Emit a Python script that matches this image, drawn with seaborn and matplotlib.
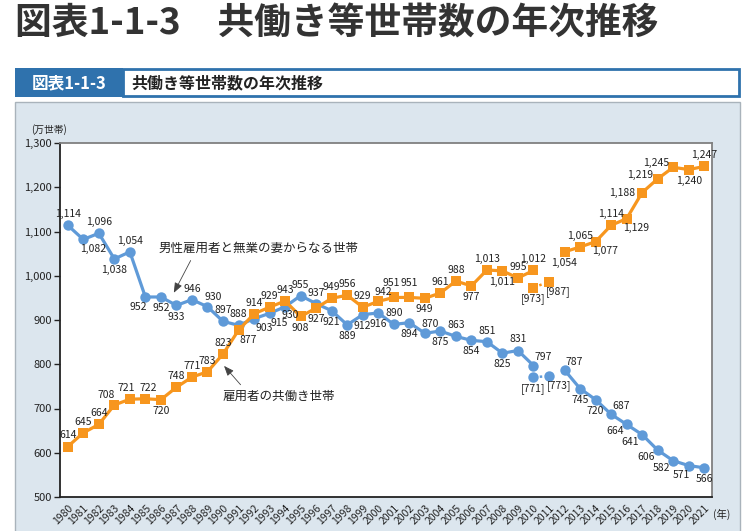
import matplotlib
matplotlib.use("Agg")
import matplotlib.pyplot as plt
from matplotlib.patches import Rectangle
from matplotlib.ticker import FuncFormatter, MultipleLocator
import pandas as pd
import seaborn as sns

years = list(range(1980, 2022))
# 男性雇用者と無業の妻からなる世帯 (2011 は欠測)
single_earner = [1114, 1082, 1096, 1038, 1054, 952, 952, 933, 946, 930,
                 897, 888, 903, 915, 930, 955, 937, 921, 889, 912,
                 916, 890, 894, 870, 875, 863, 854, 851, 825, 831,
                 797, None, 787, 745, 720, 687, 664, 641, 606, 582, 571, 566]
# 雇用者の共働き世帯
dual_earner = [614, 645, 664, 708, 721, 722, 720, 748, 771, 783,
               823, 877, 914, 929, 943, 908, 927, 949, 956, 929,
               942, 951, 951, 949, 961, 988, 977, 1013, 1011, 995,
               1012, None, 1054, 1065, 1077, 1114, 1129, 1188, 1219, 1245, 1240, 1247]
# 岩手・宮城・福島を除く参考値
ref_years = [2010, 2011]
single_ref = [771, 773]
dual_ref = [973, 987]

# where each value label sits relative to its point
single_pos = ['a', 'br', 'a', 'b', 'a', 'bl', 'b', 'b', 'a', 'ar',
              'a', 'a', 'br', 'br', 'bR', 'a', 'a', 'b', 'b', 'b',
              'b', 'a', 'b', 'ar', 'b', 'a', 'b', 'a', 'b', 'a',
              'aR', None, 'aR', 'b', 'b', 'aR', 'lb', 'lb', 'lb', 'lb', 'bl', 'b']
dual_pos = ['a', 'a', 'a', 'aL', 'al', 'ar1', 'b', 'a', 'a', 'a',
            'a', 'br', 'a', 'a', 'a', 'b', 'b', 'a', 'a', 'a',
            'ar', 'a2L', 'a2', 'b', 'a', 'a', 'b', 'a', 'b', 'a',
            'a', None, 'b', 'a', 'br', 'a', 'br', 'l', 'la', 'la', 'b', 'a']
single_ref_pos = ['b', 'br']
dual_ref_pos = ['b', 'br']

BLUE = '#5f9ad8'
ORANGE = '#f7961e'
PANEL = '#dce6ee'
HEAD = '#2f72ad'

sns.set_theme(style="white")
plt.rcParams['font.family'] = ['Noto Sans CJK JP', 'DejaVu Sans']

W, H = 750, 531
fig = plt.figure(figsize=(W / 100, H / 100), dpi=100, facecolor='white')


def px_rect(x, y, w, h, **kw):
    fig.add_artist(Rectangle((x / W, 1 - (y + h) / H), w / W, h / H,
                             transform=fig.transFigure, zorder=-10, **kw))


# page furniture
fig.text(15 / W, 1 - 24 / H, '図表1-1-3　共働き等世帯数の年次推移', fontsize=26.5,
         fontweight='bold', color='#333333', va='center', ha='left')
px_rect(15, 102, 725, 440, facecolor=PANEL, edgecolor='#a9b3bb', linewidth=1)
px_rect(123, 69, 616, 27, facecolor='white', edgecolor=HEAD, linewidth=2)
px_rect(15, 68, 108, 29, facecolor=HEAD, edgecolor=HEAD, linewidth=0)
fig.text(69 / W, 1 - 83 / H, '図表1-1-3', fontsize=12, fontweight='bold',
         color='white', ha='center', va='center')
fig.text(131 / W, 1 - 83 / H, '共働き等世帯数の年次推移', fontsize=11.5,
         fontweight='bold', color='#222222', ha='left', va='center')

ax = fig.add_axes([60 / W, 1 - 497 / H, 652 / W, 354 / H])
ax.set_facecolor('white')


def seg_frame(values):
    rows = []
    seg = 0
    for i, v in enumerate(values):
        if v is None:
            seg += 1
            continue
        rows.append({'idx': i, 'value': v, 'seg': seg})
    return pd.DataFrame(rows)


idx_of = {y: i for i, y in enumerate(years)}
ref_idx = [idx_of[y] for y in ref_years]

for values, refs, color, marker in [(single_earner, single_ref, BLUE, 'o'),
                                    (dual_earner, dual_ref, ORANGE, 's')]:
    df = seg_frame(values)
    sns.lineplot(data=df, x='idx', y='value', units='seg', estimator=None,
                 color=color, linewidth=2.3, marker=marker, markersize=7.5,
                 markeredgewidth=0, ax=ax, zorder=3)
    ref_df = pd.DataFrame({'idx': ref_idx, 'value': refs})
    sns.lineplot(data=ref_df, x='idx', y='value', color=color, linewidth=1.8,
                 linestyle=(0, (1, 1.5)), marker=marker, markersize=7.5,
                 markeredgewidth=0, ax=ax, zorder=3)

# label offsets in points: (dx, dy, horizontal alignment)
offsets = {'a': (0, 8, 'center'), 'a2': (0, 10.5, 'center'),
           'a2L': (-2, 10.5, 'center'), 'aL': (-6, 7, 'center'),
           'al': (-3, 8, 'center'), 'ar1': (2, 8, 'center'),
           'b': (0, -8, 'center'),
           'ar': (4, 7, 'center'), 'aR': (7, 6, 'center'),
           'br': (7, -7, 'center'), 'bR': (4, -6, 'center'),
           'bl': (-5, -7, 'center'),
           'l': (-5, 0, 'right'), 'lb': (-2, -5, 'right'),
           'la': (-3, 3, 'right')}
LABEL_SIZE = 7.5


def label_points(xs, values, positions, fmt):
    for i, v, p in zip(xs, values, positions):
        if v is None or p is None:
            continue
        dx, dy, ha = offsets[p]
        ax.annotate(fmt(v), (i, v), xytext=(dx, dy), textcoords='offset points',
                    ha=ha, va='center', fontsize=LABEL_SIZE, color='#222222',
                    zorder=4)


all_idx = list(range(len(years)))
label_points(all_idx, single_earner, single_pos, lambda v: f'{v:,}')
label_points(all_idx, dual_earner, dual_pos, lambda v: f'{v:,}')
label_points(ref_idx, single_ref, single_ref_pos, lambda v: f'[{v}]')
label_points(ref_idx, dual_ref, dual_ref_pos, lambda v: f'[{v}]')

# series callouts
arrow = dict(arrowstyle='-|>,head_length=0.5,head_width=0.2',
             color='#444444', lw=0.6)
ax.text(12.3, 1063, '男性雇用者と無業の妻からなる世帯', fontsize=9, ha='center',
        va='center', color='#222222')
ax.annotate('', xy=(6.75, 956), xytext=(8.0, 1040), arrowprops=arrow)
ax.text(13.6, 728, '雇用者の共働き世帯', fontsize=9, ha='center', va='center',
        color='#222222')
ax.annotate('', xy=(9.95, 801), xytext=(11.25, 749), arrowprops=arrow)

# axes
ax.set_xlim(-0.5, len(years) - 0.5)
ax.set_ylim(500, 1300)
ax.yaxis.set_major_locator(MultipleLocator(100))
ax.yaxis.set_major_formatter(FuncFormatter(lambda v, _: f'{int(v):,}'))
ax.set_xticks(all_idx)
ax.set_xticklabels([str(y) for y in years], rotation=45, ha='right',
                   rotation_mode='anchor', fontsize=7.5)
ax.set_xticks([i - 0.5 for i in range(len(years) + 1)], minor=True)
ax.tick_params(axis='x', which='major', length=0, pad=4, colors='#222222')
ax.tick_params(axis='x', which='minor', length=5, width=1, direction='in',
               color='#444444')
ax.tick_params(axis='y', length=4, width=1, direction='out', colors='#222222',
               labelsize=8, pad=2, left=True)
ax.set_xlabel('')
ax.set_ylabel('')
for side in ['left', 'bottom']:
    ax.spines[side].set_color('#222222')
    ax.spines[side].set_linewidth(1.3)
for side in ['top', 'right']:
    ax.spines[side].set_color('#808080')
    ax.spines[side].set_linewidth(1.3)
ax.grid(False)

fig.text(49 / W, 1 - 130 / H, '(万世帯)', fontsize=7, ha='center', va='center',
         color='#222222')
fig.text(722 / W, 1 - 514 / H, '(年)', fontsize=7.5, ha='center', va='center',
         color='#222222')

fig.savefig('out.png', dpi=100, facecolor='white')
